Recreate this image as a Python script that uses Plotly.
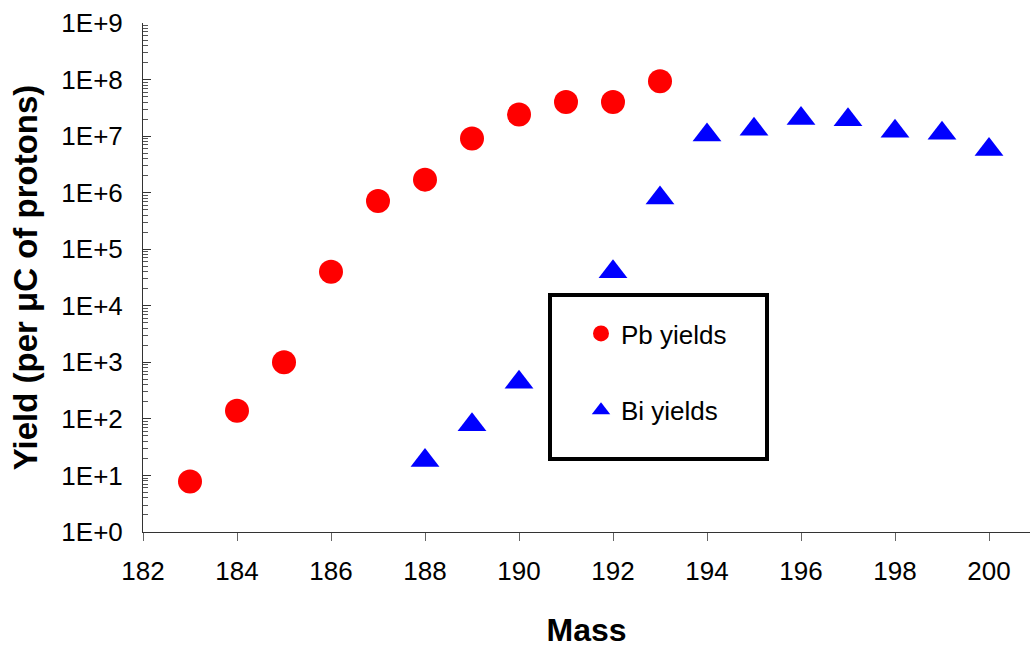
import plotly.graph_objects as go

pb_mass = [183, 184, 185, 186, 187, 188, 189, 190, 191, 192, 193]
pb_yield = [7.8, 139, 1000, 4.0e4, 7.1e5, 1.7e6, 9.1e6, 2.4e7, 4.0e7, 4.0e7, 9.3e7]

bi_mass = [188, 189, 190, 192, 193, 194, 195, 196, 197, 198, 199, 200]
bi_yield = [18.3, 79, 445, 4.0e4, 8.05e5, 1.05e7, 1.32e7, 2.04e7, 1.95e7, 1.22e7, 1.12e7, 5.8e6]

y_tickvals = [1, 10, 100, 1e3, 1e4, 1e5, 1e6, 1e7, 1e8, 1e9]
y_ticktext = ["1E+0", "1E+1", "1E+2", "1E+3", "1E+4", "1E+5", "1E+6", "1E+7", "1E+8", "1E+9"]
x_tickvals = [182, 184, 186, 188, 190, 192, 194, 196, 198, 200]

FONT = "Arial, 'Liberation Sans', sans-serif"

W, H = 1030, 648
ML, MR, MT, MB = 143, 0, 23, 116
PW = W - ML - MR
PH = H - MT - MB
PX_PER_UNIT = 47.0

fig = go.Figure()
fig.add_trace(go.Scatter(
    x=pb_mass, y=pb_yield, mode="markers", name="Pb yields", legendgroup="pb",
    marker=dict(symbol="circle", size=24, color="#ff0000", line=dict(width=0)),
))
fig.add_trace(go.Scatter(
    x=bi_mass, y=bi_yield, mode="markers", name="Bi yields", legendgroup="bi",
    marker=dict(symbol="triangle-up", size=25, color="#0000ff", line=dict(width=0)),
))

def px2paper_x(px):
    return (px - ML) / PW

def px2paper_y(py):
    return (H - MB - py) / PH

# legend frame
fig.add_shape(type="rect", xref="paper", yref="paper",
              x0=px2paper_x(550), x1=px2paper_x(767),
              y0=px2paper_y(459), y1=px2paper_y(295),
              line=dict(color="black", width=4), fillcolor="white", layer="below")

fig.update_layout(
    width=W, height=H,
    margin=dict(l=ML, r=MR, t=MT, b=MB, pad=0, autoexpand=False),
    paper_bgcolor="white", plot_bgcolor="white",
    font=dict(family=FONT, color="black", size=26),
    showlegend=True,
    legend=dict(
        x=px2paper_x(581), y=px2paper_y(310), xanchor="left", yanchor="top",
        bgcolor="rgba(0,0,0,0)", borderwidth=0,
        font=dict(family=FONT, size=26, color="black"),
        tracegroupgap=40, itemwidth=30,
    ),
    xaxis=dict(
        range=[182, 182 + PW / PX_PER_UNIT],
        tickvals=x_tickvals, ticks="outside", ticklen=8, tickcolor="#666666", tickwidth=1,
        showline=True, linecolor="#333333", linewidth=1, mirror=False,
        showgrid=False, zeroline=False,
        tickfont=dict(family=FONT, size=26, color="black"),
        ticklabelstandoff=8,
        title=dict(text="<b>Mass</b>", font=dict(family=FONT, size=32, color="black"), standoff=36),
    ),
    yaxis=dict(
        type="log", range=[0, 9],
        tickvals=y_tickvals, ticktext=y_ticktext,
        ticks="inside", ticklen=8, tickcolor="#333333", tickwidth=1,
        minor=dict(ticks="inside", ticklen=5, tickcolor="#555555", dtick="D1", showgrid=False),
        showline=True, linecolor="#333333", linewidth=1,
        showgrid=False, zeroline=False,
        tickfont=dict(family=FONT, size=26, color="black"),
        ticklabelstandoff=14,
        title=dict(text="<b>Yield (per μC of protons)</b>", font=dict(family=FONT, size=33, color="black"), standoff=13),
    ),
)

fig.write_html("out.html",
               config={"displayModeBar": False},
               post_script="document.body.style.margin='0px';document.body.style.padding='0px';document.body.style.overflow='hidden';")
